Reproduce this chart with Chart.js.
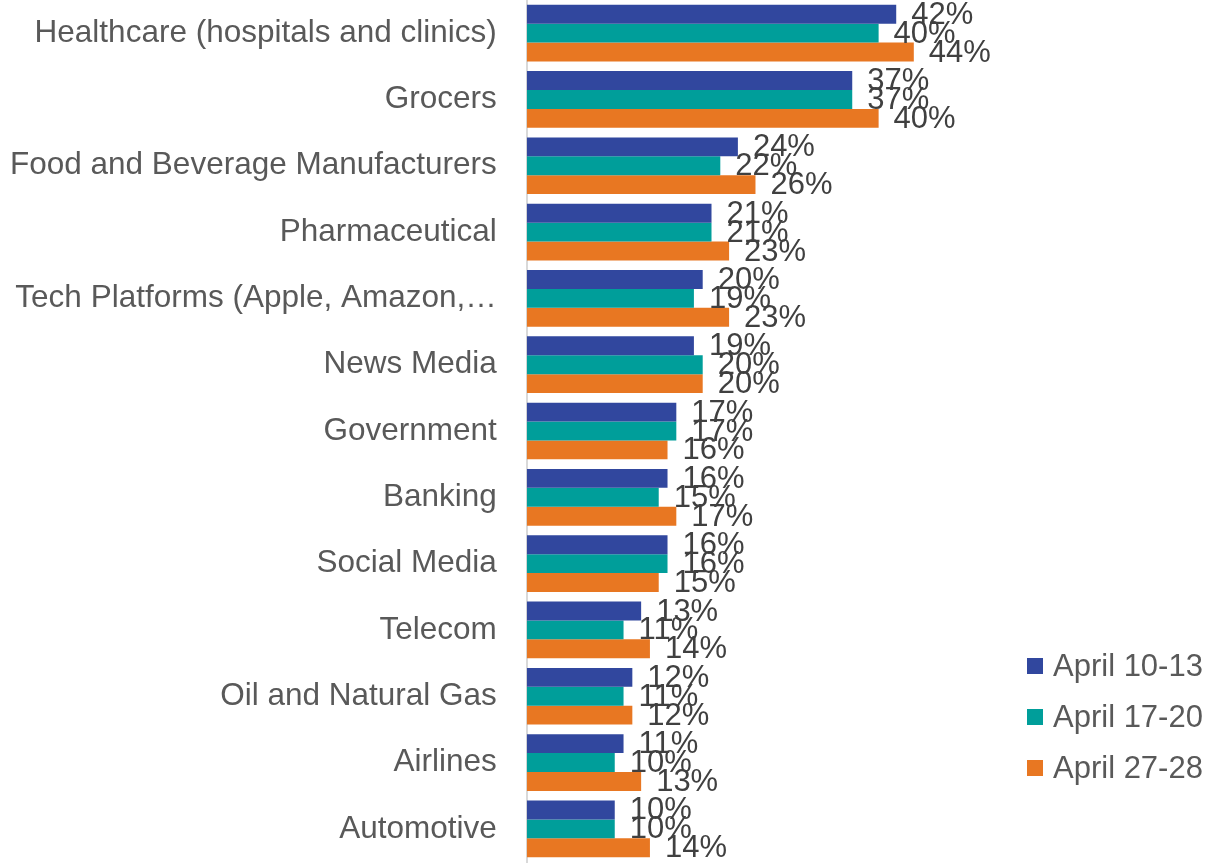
<!DOCTYPE html>
<html>
<head>
<meta charset="utf-8">
<script src="https://cdn.jsdelivr.net/npm/chart.js@4.4.1/dist/chart.umd.min.js"></script>
<style>
  html, body { margin: 0; padding: 0; background: #ffffff; }
  #c { display: block; }
</style>
</head>
<body>
<canvas id="c" width="1205" height="865"></canvas>
<script>
const categories = [
  "Healthcare (hospitals and clinics)",
  "Grocers",
  "Food and Beverage Manufacturers",
  "Pharmaceutical",
  "Tech Platforms (Apple, Amazon,\u2026",
  "News Media",
  "Government",
  "Banking",
  "Social Media",
  "Telecom",
  "Oil and Natural Gas",
  "Airlines",
  "Automotive"
];
const seriesNames = ["April 10-13", "April 17-20", "April 27-28"];
const april10_13 = [42, 37, 24, 21, 20, 19, 17, 16, 16, 13, 12, 11, 10];
const april17_20 = [40, 37, 22, 21, 19, 20, 17, 15, 16, 11, 11, 10, 10];
const april27_28 = [44, 40, 26, 23, 23, 20, 16, 17, 15, 14, 12, 13, 14];
const seriesColors = ["#31479E", "#009E9A", "#E87722"];

const FONT = "'Liberation Sans', Arial, sans-serif";
const TICK_PAD = 30;

const valueLabels = {
  id: 'valueLabels',
  afterDatasetsDraw(chart) {
    const ctx = chart.ctx;
    ctx.save();
    ctx.font = "31px " + FONT;
    ctx.fillStyle = "#404040";
    ctx.textAlign = "left";
    ctx.textBaseline = "middle";
    chart.data.datasets.forEach((ds, i) => {
      const meta = chart.getDatasetMeta(i);
      meta.data.forEach((bar, j) => {
        ctx.fillText(ds.data[j] + "%", bar.x + 15, bar.y + 1);
      });
    });
    ctx.restore();
  }
};

const customLegend = {
  id: 'customLegend',
  afterDraw(chart) {
    const ctx = chart.ctx;
    ctx.save();
    ctx.font = "31px " + FONT;
    ctx.textAlign = "left";
    ctx.textBaseline = "middle";
    const x0 = chart.width - 178;
    const y0 = chart.height - 199;
    const step = 51;
    chart.data.datasets.forEach((ds, i) => {
      const y = y0 + i * step;
      ctx.fillStyle = ds.backgroundColor;
      ctx.fillRect(x0, y - 8, 16, 16);
      ctx.fillStyle = "#595959";
      ctx.fillText(ds.label, x0 + 26, y + 1);
    });
    ctx.restore();
  }
};

new Chart(document.getElementById('c'), {
  type: 'bar',
  data: {
    labels: categories,
    datasets: [
      { label: seriesNames[0], data: april10_13, backgroundColor: seriesColors[0] },
      { label: seriesNames[1], data: april17_20, backgroundColor: seriesColors[1] },
      { label: seriesNames[2], data: april27_28, backgroundColor: seriesColors[2] }
    ]
  },
  options: {
    indexAxis: 'y',
    responsive: false,
    animation: false,
    layout: { padding: { left: 10, right: 62.5, top: 0, bottom: 3 } },
    datasets: {
      bar: { categoryPercentage: 0.855, barPercentage: 1.0, borderWidth: 0 }
    },
    scales: {
      x: {
        display: false,
        min: 0,
        max: 70
      },
      y: {
        grid: { display: false, drawTicks: false },
        border: { display: true, color: '#D9D9D9', width: 2 },
        ticks: {
          color: '#595959',
          font: { family: FONT, size: 31.5 },
          padding: TICK_PAD,
          autoSkip: false,
          maxRotation: 0
        },
        afterFit(scale) {
          scale.paddingTop = 0;
          scale.paddingBottom = 0;
          scale.width = scale.width - TICK_PAD;
        }
      }
    },
    plugins: {
      legend: { display: false },
      tooltip: { enabled: false }
    }
  },
  plugins: [valueLabels, customLegend]
});
</script>
</body>
</html>
